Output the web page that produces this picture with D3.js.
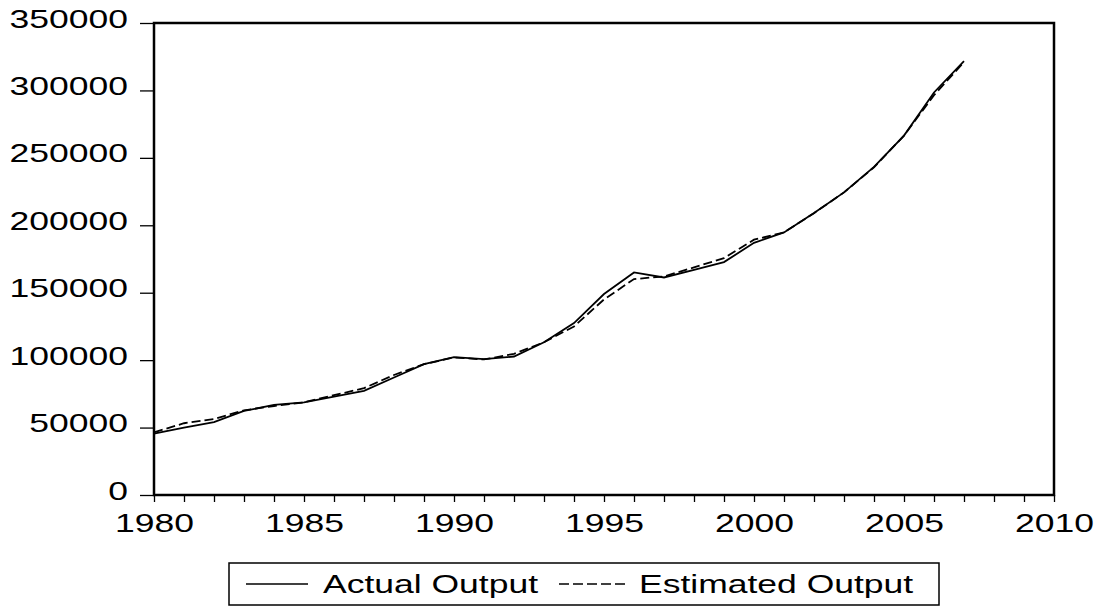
<!DOCTYPE html>
<html>
<head>
<meta charset="utf-8">
<script src="https://cdn.jsdelivr.net/npm/d3@7"></script>
<style>
  body { margin: 0; background: #fff; }
  text { font-family: "Liberation Sans", Arial, sans-serif; }
</style>
</head>
<body>
<div id="chart"></div>
<script>
// years on the x axis
const years = [1980, 1981, 1982, 1983, 1984, 1985, 1986, 1987, 1988, 1989,
               1990, 1991, 1992, 1993, 1994, 1995, 1996, 1997, 1998, 1999,
               2000, 2001, 2002, 2003, 2004, 2005, 2006, 2007]

const actual = [45500, 50000, 54000, 62300, 66800, 68700, 73000, 77200, 87100, 97000,
                102200, 100700, 102700, 113300, 127500, 149000, 165000, 161300, 167000, 172700,
                187000, 194700, 209100, 224400, 243300, 266500, 298500, 321700]
const estimated = [46500, 53200, 56400, 62800, 66000, 68700, 74000, 79200, 89000, 97000,
                   102000, 100500, 104700, 113300, 125000, 145000, 160100, 162100, 168800, 175700,
                   189300, 194700, 209000, 224400, 243000, 266500, 296500, 321000]

const yTicks = [0, 50000, 100000, 150000, 200000, 250000, 300000, 350000]
const xTicks = [1980, 1985, 1990, 1995, 2000, 2005, 2010]
const seriesNames = ['Actual Output', 'Estimated Output']

const W = 1102, H = 607
const plotL = 154, plotR = 1054, plotT = 23, plotB = 495
const SX = 1.42   // the picture's text is stretched sideways

const svg = d3.select('#chart').append('svg')
  .attr('width', W)
  .attr('height', H)

const x = d3.scaleLinear().domain([1980, 2010]).range([plotL, plotR])
const y = d3.scaleLinear().domain([0, 350000]).range([plotB, plotT])

// y axis
const yAxis = svg.append('g')
  .attr('transform', `translate(${plotL},0)`)
  .call(d3.axisLeft(y).tickValues(yTicks).tickSize(14).tickFormat(d3.format('d')))
yAxis.select('.domain').remove()
yAxis.selectAll('.tick line').attr('stroke-width', 1.3)
yAxis.selectAll('.tick text')
  .attr('x', -26 / SX)
  .attr('dy', null)
  .attr('y', 4)
  .attr('transform', `scale(${SX},1)`)
  .style('font-size', '25px')
  .attr('fill', '#000')

// x axis, a tick per year, labels every five
const xAxis = svg.append('g')
  .attr('transform', `translate(0,${plotB})`)
  .call(d3.axisBottom(x).ticks(30).tickSize(7)
    .tickFormat(d => xTicks.includes(d) ? d : ''))
xAxis.select('.domain').remove()
xAxis.selectAll('.tick line').attr('stroke-width', 1.3)
xAxis.selectAll('.tick text')
  .attr('dy', null)
  .attr('y', 37)
  .attr('transform', `scale(${SX},1)`)
  .style('font-size', '25px')
  .attr('fill', '#000')

// frame
svg.append('rect')
  .attr('x', plotL)
  .attr('y', plotT)
  .attr('width', plotR - plotL)
  .attr('height', plotB - plotT)
  .attr('fill', 'none')
  .attr('stroke', '#000')
  .attr('stroke-width', 2.5)

const line = d3.line()
  .x((d, i) => x(years[i]))
  .y(d => y(d))

svg.append('path')
  .datum(estimated)
  .attr('d', line)
  .attr('fill', 'none')
  .attr('stroke', '#000')
  .attr('stroke-width', 1.8)
  .attr('stroke-dasharray', '9,4')

svg.append('path')
  .datum(actual)
  .attr('d', line)
  .attr('fill', 'none')
  .attr('stroke', '#000')
  .attr('stroke-width', 1.8)

// legend
const lg = svg.append('g')
lg.append('rect')
  .attr('x', 229)
  .attr('y', 563)
  .attr('width', 710)
  .attr('height', 42)
  .attr('fill', '#fff')
  .attr('stroke', '#000')
  .attr('stroke-width', 1.5)

lg.append('line')
  .attr('x1', 246).attr('x2', 308)
  .attr('y1', 584).attr('y2', 584)
  .attr('stroke', '#000').attr('stroke-width', 1.5)
lg.append('text')
  .attr('transform', `translate(323,593) scale(${SX},1)`)
  .style('font-size', '25px')
  .text(seriesNames[0])

lg.append('line')
  .attr('x1', 559).attr('x2', 626)
  .attr('y1', 584).attr('y2', 584)
  .attr('stroke', '#000').attr('stroke-width', 1.5)
  .attr('stroke-dasharray', '10,4')
lg.append('text')
  .attr('transform', `translate(639,593) scale(${SX},1)`)
  .style('font-size', '25px')
  .text(seriesNames[1])
</script>
</body>
</html>
